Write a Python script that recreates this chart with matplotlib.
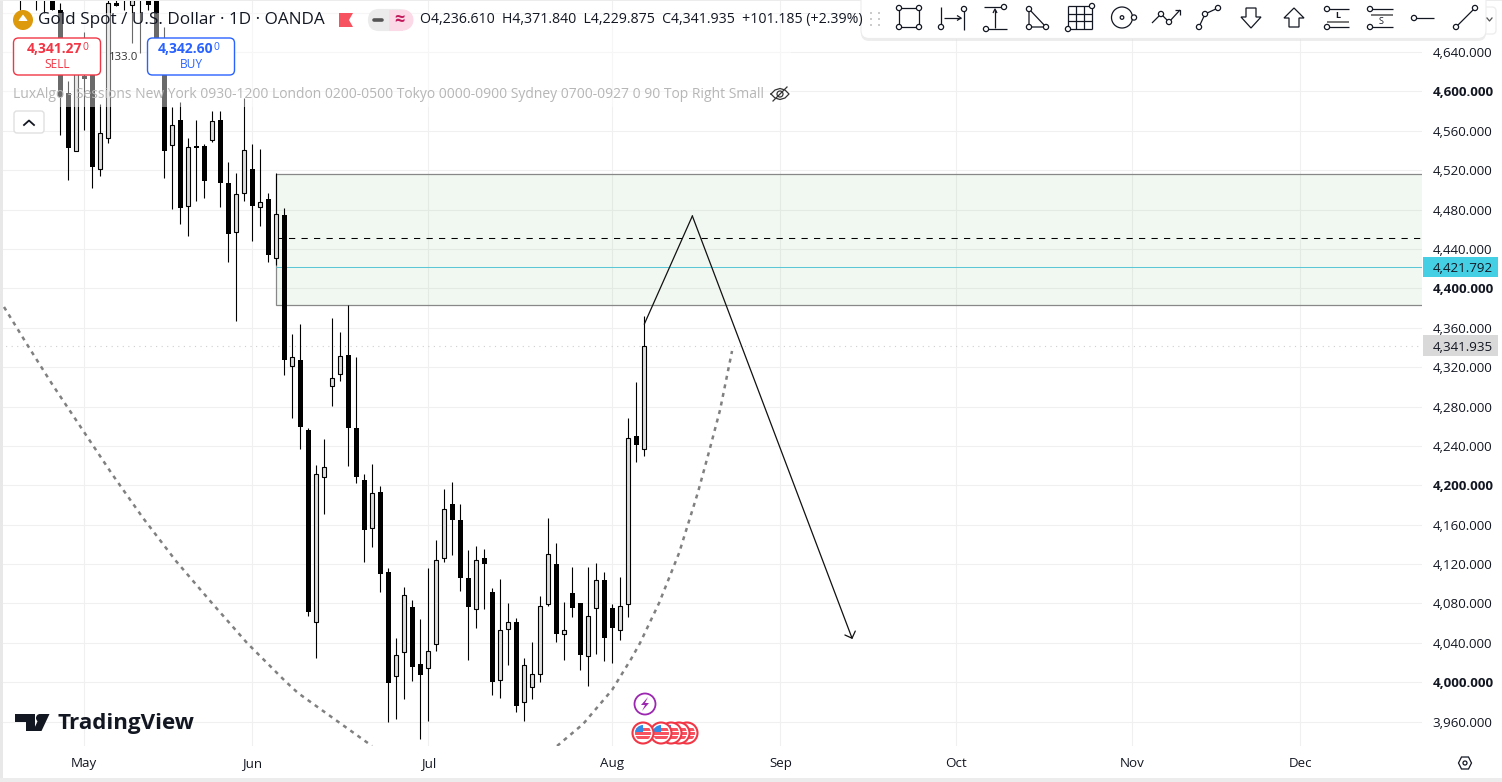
import matplotlib
matplotlib.use('Agg')
import matplotlib.pyplot as plt
from matplotlib.patches import Rectangle, Circle, FancyBboxPatch, Polygon

plt.rcParams['font.family'] = ['Open Sans', 'DejaVu Sans']

# bar number 0 is the first trading day of May
bars = list(range(-8, 71))
opens = [4710, 4730, 4725, 4725, 4715, 4683, 4598, 4539, 4616, 4622, 4521, 4553, 4690, 4705, 4688, 4710, 4692, 4705, 4632, 4546,
         4571, 4484, 4545, 4545, 4551, 4571, 4507, 4457, 4497, 4521, 4483, 4491, 4431, 4474, 4321, 4327, 4256, 4061, 4208, 4301,
         4313, 4332, 4258, 4205, 4157, 4193, 4112, 4006, 4031, 4076, 4019, 4014, 4039, 4126, 4181, 4165, 4106, 4074, 4126, 4092,
         4002, 4054, 4061, 3980, 3995, 4008, 4079, 4120, 4049, 4091, 4081, 4027, 4075, 4104, 4075, 4053, 4079, 4250, 4236.61]
highs = [4720, 4735, 4730, 4730, 4720, 4690, 4611, 4647, 4660, 4632, 4587, 4700, 4698, 4712, 4698, 4715, 4697, 4710, 4665, 4584,
         4589, 4553, 4571, 4547, 4580, 4580, 4528, 4517, 4593, 4547, 4542, 4497, 4517, 4482, 4354, 4364, 4258, 4221, 4247, 4370,
         4356, 4383, 4330, 4211, 4222, 4199, 4116, 4045, 4097, 4084, 4064, 4116, 4144, 4196, 4203, 4181, 4134, 4138, 4135, 4096,
         4105, 4081, 4065, 4025, 4041, 4088, 4167, 4141, 4082, 4117, 4081, 4117, 4121, 4112, 4079, 4107, 4268, 4305, 4371.84]
lows = [4683, 4700, 4683, 4680, 4683, 4556, 4510, 4539, 4561, 4502, 4514, 4548, 4687, 4683, 4649, 4639, 4683, 4637, 4512, 4481,
        4465, 4453, 4489, 4492, 4549, 4483, 4427, 4367, 4489, 4448, 4463, 4427, 4424, 4312, 4268, 4237, 4067, 4025, 4171, 4281,
        4306, 4220, 4202, 4122, 4137, 4092, 3960, 3963, 3983, 4001, 3942, 3961, 4032, 4122, 4129, 4093, 4023, 4055, 4074, 3987,
        3984, 4018, 3970, 3961, 3983, 4000, 4077, 4041, 4023, 4066, 4012, 3996, 4029, 4022, 4020, 4043, 4066, 4224, 4229.875]
closes = [4703, 4720, 4705, 4705, 4683, 4594, 4543, 4632, 4613, 4523, 4558, 4690, 4687, 4698, 4693, 4700, 4688, 4642, 4539, 4566,
          4482, 4544, 4543, 4509, 4570, 4507, 4455, 4496, 4540, 4484, 4488, 4434, 4475, 4327, 4330, 4259, 4071, 4211, 4219, 4309,
          4331, 4258, 4208, 4155, 4192, 4110, 3999, 4028, 4089, 4016, 4007, 4032, 4124, 4176, 4165, 4106, 4076, 4124, 4120, 4000,
          4053, 4061, 3976, 4018, 4008, 4077, 4130, 4049, 4053, 4075, 4028, 4067, 4104, 4045, 4055, 4077, 4248, 4240.75, 4341.935]

month_bars = [0, 21, 43, 66, 87, 109, 131, 152]
month_labels = ['May', 'Jun', 'Jul', 'Aug', 'Sep', 'Oct', 'Nov', 'Dec']
price_ticks = list(range(3960, 4681, 40))

zone_left = 24
zone_top = 4516.6
zone_bottom = 4383.6
zone_mid = 4450.8
last_line = 4421.792
last_close = 4341.935

# hand drawn path and the two halves of the dashed arc
path_bars = [70, 76, 96]
path_prices = [4363.8, 4473.5, 4043.9]
arc_left_bars = [-10.04, -7.04, -4.04, -0.29, 3.46, 7.34, 11.46, 15.84, 20.34, 25.09, 26.71, 35.96]
arc_left_prices = [4381.1, 4341.5, 4302.9, 4257.2, 4211.5, 4166.8, 4123.1, 4081.5, 4039.9, 4001.3, 3989.1, 3935.3]
arc_right_bars = [59.09, 62.34, 65.96, 68.34, 69.46, 71.84, 74.34, 76.71, 78.21, 79.46, 80.96]
arc_right_prices = [3935.3, 3957.6, 3992.2, 4023.6, 4039.9, 4080.5, 4131.3, 4193.2, 4237.9, 4276.5, 4336.4]

W, H = 1502, 782
fig = plt.figure(figsize=(W / 100, H / 100), dpi=100, facecolor='white')

# main chart, plot area is 1422 px wide and 746 px high
ax = fig.add_axes([0, 1 - 746 / H, 1422 / W, 746 / H])
ax.set_xlim(-10.54, 167.2)
ax.set_ylim(3935.3, 4692.8)
for s in ax.spines.values():
    s.set_visible(False)
ax.set_axisbelow(True)
ax.grid(True, color='#f0f0f0', lw=0.75)
ax.set_xticks(month_bars)
ax.set_xticklabels(month_labels, fontsize=9.6, color='#131722')
ax.yaxis.tick_right()
ax.set_yticks(price_ticks)
ax.set_yticklabels([f'{p:,.3f}' for p in price_ticks], fontsize=9.6, color='#131722', va='center_baseline')
for p, lab in zip(price_ticks, ax.get_yticklabels()):
    if p % 200 == 0:
        lab.set_fontweight('bold')
ax.tick_params(axis='both', length=0)
ax.tick_params(axis='y', pad=7.5)
ax.tick_params(axis='x', pad=8)

# supply zone
ax.add_patch(Rectangle((zone_left, zone_bottom), 200, zone_top - zone_bottom, facecolor=(0.30, 0.69, 0.31, 0.08),
                       edgecolor='#888888', lw=0.9, zorder=1.5))
ax.hlines(zone_mid, zone_left, 200, color='black', lw=0.75, linestyles=(0, (6, 6)), zorder=1.6)
ax.hlines(last_line, zone_left, 200, color='#5cc6d6', lw=0.75, zorder=1.6)
ax.axhline(last_close, color='#cfcfcf', lw=0.8, linestyle=(0, (1, 4)), zorder=1.6)

# candles
ax.vlines(bars, lows, highs, color='black', lw=0.8, zorder=3)
for b, o, c in zip(bars, opens, closes):
    if c >= o:
        ax.bar(b, c - o, bottom=o, width=0.47, facecolor='#dedede', edgecolor='black', lw=0.8, zorder=4)
    else:
        ax.bar(b, o - c, bottom=c, width=0.62, facecolor='black', edgecolor='black', lw=0, zorder=4)

# arc and drawn path
dots = (0, (1.6, 1.9))
ax.plot(arc_left_bars, arc_left_prices, color='#808080', lw=1.8, linestyle=dots, zorder=2)
ax.plot(arc_right_bars, arc_right_prices, color='#808080', lw=1.8, linestyle=dots, zorder=2)
ax.plot(path_bars[:2], path_prices[:2], color='#111111', lw=0.9, zorder=5)
ax.annotate('', xy=(path_bars[2], path_prices[2]), xytext=(path_bars[1], path_prices[1]),
            arrowprops=dict(arrowstyle='->,head_length=0.4,head_width=0.4', color='#111111', lw=0.9, mutation_scale=10,
                            shrinkA=0, shrinkB=0), zorder=5)


def price_tag(price, color):
    tr = ax.get_yaxis_transform()
    ax.add_patch(Rectangle((1.0007, price - 10.2), 0.0527, 20.4, transform=tr, facecolor=color, lw=0, clip_on=False, zorder=6))
    ax.text(1.029, price, f'{price:,.3f}', transform=tr, ha='center', va='center_baseline', fontsize=9.6,
            color='#131722', clip_on=False, zorder=7)


price_tag(last_line, '#45cfe4')
price_tag(last_close, '#d9d9d9')

# everything around the chart is drawn in pixel coordinates
ui = fig.add_axes([0, 0, 1, 1], zorder=5)
ui.set_xlim(0, W)
ui.set_ylim(H, 0)
ui.axis('off')

ui.add_patch(Rectangle((0, 0), 2.5, H, facecolor='#e8e8e8', lw=0))
ui.add_patch(Rectangle((0, 778), W, 4, facecolor='#ececec', lw=0))
ui.add_patch(Rectangle((0, 0), W, 1, facecolor='#ececec', lw=0))

# legend background washes out the candles behind it
ui.add_patch(Rectangle((2.5, 13), 788, 94, facecolor='white', alpha=0.42, lw=0))

# title row
ui.add_patch(Circle((23, 20), 10, facecolor='#dc9a0c', lw=0))
ui.add_patch(Polygon([(17, 24), (29, 24), (26.5, 19), (23, 14.5), (19.5, 19)], facecolor='white', lw=0))
ui.add_patch(Rectangle((16, 20.5), 14, 4, facecolor='#dc9a0c', lw=0))
ui.text(38, 20, 'Gold Spot / U.S. Dollar · 1D · OANDA', fontsize=12.35, va='center', color='#131722')
ui.add_patch(Polygon([(339, 13), (353, 13), (349, 20), (353, 27), (339, 27)], facecolor='#f7525f', lw=0))
ui.add_patch(FancyBboxPatch((370, 11), 37, 18, boxstyle='round,pad=0,rounding_size=9', mutation_aspect=1, facecolor='#ebebeb',
                            edgecolor='#ebebeb', lw=3))
ui.add_patch(Rectangle((389, 9.5), 14, 21, facecolor='#fbd9e6', lw=0))
ui.add_patch(Circle((403, 20), 10.5, facecolor='#fbd9e6', lw=0))
ui.plot([374, 382], [20, 20], color='#555555', lw=2.6, solid_capstyle='round')
ui.text(399, 20, '≈', fontsize=13, ha='center', va='center', color='#c2185b', fontweight='bold')
ui.text(420, 20, 'O4,236.610  H4,371.840  L4,229.875  C4,341.935  +101.185 (+2.39%)', fontsize=10.15, va='center', color='#131722')


def trade_box(x, color, whole, last, side, whole_right):
    ui.add_patch(FancyBboxPatch((x, 38), 87, 37, boxstyle='round,pad=0,rounding_size=5', facecolor='white', edgecolor=color, lw=1))
    ui.text(whole_right, 49, whole, fontsize=10, fontweight='bold', color=color, ha='right', va='center')
    ui.text(whole_right + 0.5, 48, last, fontsize=7.5, color=color, ha='left', va='center')
    ui.text(x + 43.5, 64.5, side, fontsize=8.6, color=color, ha='center', va='center')


trade_box(13.5, '#f23645', '4,341.27', '0', 'SELL', 82)
trade_box(147.5, '#2962ff', '4,342.60', '0', 'BUY', 213)
ui.text(124, 57, '133.0', fontsize=8.2, ha='center', va='center', color='#333333')
ui.text(13, 94, 'LuxAlgo - Sessions New York 0930-1200 London 0200-0500 Tokyo 0000-0900 Sydney 0700-0927 0 90 Top Right Small',
        fontsize=9.96, va='center', color='#b6b6b6')

# hidden eye
eye_x = [771, 775, 780, 785, 789, 785, 780, 775, 771]
eye_y = [94, 90, 88.5, 90, 94, 98, 99.5, 98, 94]
ui.plot(eye_x, eye_y, color='#333333', lw=0.9)
ui.add_patch(Circle((780, 94), 3, facecolor='none', edgecolor='#333333', lw=0.9))
ui.plot([773, 787], [101, 87], color='#333333', lw=0.9)

# collapse button
ui.add_patch(FancyBboxPatch((14, 111), 30, 22, boxstyle='round,pad=0,rounding_size=3', facecolor='white', edgecolor='#e0e0e0', lw=1))
ui.plot([24, 29, 34], [125, 120.5, 125], color='#131722', lw=1.3)

# drawing toolbar
ui.add_patch(FancyBboxPatch((1470, 7), 26, 27, boxstyle='round,pad=0,rounding_size=4', facecolor='white', edgecolor='#eeeeee', lw=1))
ui.plot([1487, 1489.5, 1492], [18, 21, 18], color='#555555', lw=0.9)
ui.add_patch(FancyBboxPatch((861, -8), 625, 49, boxstyle='round,pad=0,rounding_size=8', facecolor='#dddddd', edgecolor='none', alpha=0.5,
                            lw=0, transform=ui.transData))
ui.add_patch(FancyBboxPatch((861, -10), 625, 48.5, boxstyle='round,pad=0,rounding_size=8', facecolor='white', edgecolor='#ececec', lw=0.8))
for gx in (870, 878):
    for gy in (12, 18, 24):
        ui.add_patch(Rectangle((gx, gy), 1.6, 1.6, facecolor='#cccccc', lw=0))


def seg(xs, ys, lw=0.9, color='#131722'):
    ui.plot(xs, ys, color=color, lw=lw, solid_capstyle='butt', zorder=8)


def node(x, y):
    ui.add_patch(Circle((x, y), 2.6, facecolor='white', edgecolor='#131722', lw=0.9, zorder=9))


# rectangle
seg([899, 919, 919, 899, 899], [8, 8, 27, 27, 8])
for p in [(899, 8), (919, 8), (899, 27), (919, 27)]:
    node(*p)
# date range
seg([941, 941], [7, 27])
seg([964, 964], [7, 30])
seg([944, 961], [18, 18])
seg([957, 961, 957], [15.5, 18, 20.5])
node(941, 27)
node(964, 9)
# price range
seg([984, 1004], [7, 7])
seg([987, 1007], [29, 29])
seg([995, 995], [28, 10])
seg([993, 995, 997], [13, 9, 13])
node(1004, 7)
node(986, 29)
# triangle
seg([1029, 1029, 1046, 1029], [9, 27, 27, 9])
for p in [(1029, 9), (1029, 27), (1046, 27)]:
    node(*p)
# fib grid
for gx in (1068, 1076, 1084, 1092):
    seg([gx, gx], [6, 29])
for gy in (6, 13.5, 21, 29):
    seg([1068, 1092], [gy, gy])
node(1092, 6)
node(1068, 29)
# circle tool
ui.add_patch(Circle((1122, 17.5), 10.5, facecolor='white', edgecolor='#131722', lw=0.9, zorder=8))
ui.add_patch(Circle((1122, 17.5), 1.8, facecolor='white', edgecolor='#131722', lw=0.9, zorder=9))
node(1134, 17.5)
# zigzag arrow
seg([1152, 1161, 1169, 1180], [23, 14, 22, 10])
seg([1175, 1180, 1180], [10, 10, 15])
node(1161, 14)
node(1169, 22)
# curve
seg([1199, 1205, 1218], [27, 14, 8])
for p in [(1199, 27), (1205, 14), (1218, 8)]:
    node(*p)
# down arrow and up arrow
ui.add_patch(Polygon([(1246, 8), (1256, 8), (1256, 17), (1261, 17), (1251, 28), (1241, 17), (1246, 17)], facecolor='white', edgecolor='#131722', lw=0.9, zorder=8))
ui.add_patch(Polygon([(1289, 27), (1299, 27), (1299, 18), (1304, 18), (1294, 8), (1284, 18), (1289, 18)], facecolor='white', edgecolor='#131722', lw=0.9, zorder=8))
# long and short positions
seg([1327, 1349], [9, 9])
seg([1327, 1349], [21.5, 21.5], lw=1.4, color='#777777')
seg([1327, 1349], [27, 27])
node(1327, 9)
node(1327, 27)
ui.text(1337.5, 15.5, 'L', fontsize=6.5, ha='center', va='center', color='#131722', fontweight='bold', zorder=9)
seg([1371, 1393], [9, 9])
seg([1371, 1393], [15, 15], lw=1.4, color='#777777')
seg([1371, 1393], [27, 27])
node(1370, 9)
node(1370, 27)
ui.text(1381.5, 21, 'S', fontsize=6.5, ha='center', va='center', color='#131722', zorder=9)
# horizontal line and trend line
seg([1414, 1434], [18, 18])
node(1414, 18)
seg([1456, 1475], [27, 8])
node(1456, 27)
node(1475, 8)

# TradingView logo
ui.add_patch(Polygon([(15, 714), (35, 714), (35, 731), (26, 731), (26, 722), (15, 722)], facecolor='#131722', lw=0))
ui.add_patch(Circle((40, 718), 4, facecolor='#131722', lw=0))
ui.add_patch(Polygon([(49.5, 714), (41.5, 731), (33, 731), (41, 714)], facecolor='#131722', lw=0))
ui.text(57, 724, 'TradingView', fontsize=16.1, fontweight='bold', va='center', color='#131722')

# events on the chart
ui.add_patch(Circle((645, 704), 10.5, facecolor='white', edgecolor='#9c27b0', lw=1.3))
ui.add_patch(Polygon([(648, 697), (641, 705), (645, 705), (642, 711), (649, 703), (645, 703)], facecolor='#9c27b0', lw=0))
for cx in (687, 679, 671, 661, 643):
    edge = Circle((cx, 733), 10.5, facecolor='white', edgecolor='#f23645', lw=1.5)
    ui.add_patch(edge)
    inner = Circle((cx, 733), 8, transform=ui.transData)
    for sy in (729.5, 733.5, 737.5):
        st = Rectangle((cx - 9, sy - 1.2), 18, 2.4, facecolor='#f7525f', lw=0)
        ui.add_patch(st)
        st.set_clip_path(inner)
    can = Rectangle((cx - 8, 725), 8, 7, facecolor='#2f8be6', lw=0)
    ui.add_patch(can)
    can.set_clip_path(inner)

# settings icon
ui.add_patch(Polygon([(1458.5, 763), (1461.5, 757), (1468.5, 757), (1471.5, 763), (1468.5, 769), (1461.5, 769)], facecolor='white', edgecolor='#131722', lw=0.9))
ui.add_patch(Circle((1465, 763), 2, facecolor='white', edgecolor='#131722', lw=0.9))

fig.savefig('out.png', dpi=100, facecolor='white')
